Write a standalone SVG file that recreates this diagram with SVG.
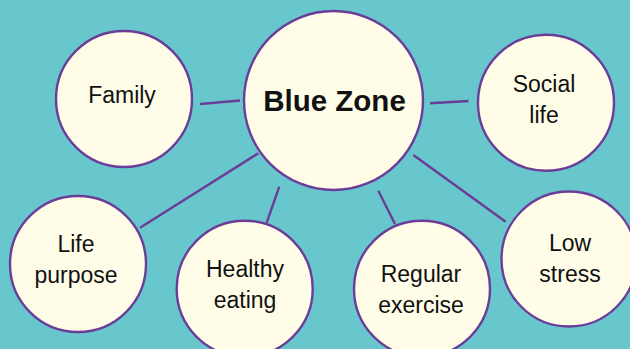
<svg xmlns="http://www.w3.org/2000/svg" width="630" height="349" viewBox="0 0 630 349">
<style>
.bg{fill:#67c7cc}
.node circle{fill:#fffde8;stroke:#6b3d98;stroke-width:2.4}
#connectors line{stroke:#6b3d98;stroke-width:2.4}
text{font-family:"Liberation Sans",Arial,sans-serif;font-size:23px;fill:#111;text-anchor:middle}
.title{font-weight:bold;font-size:29.5px}
</style>
<rect class="bg" x="0" y="0" width="630" height="349"/>
<g id="connectors">
<line x1="200" y1="104" x2="240" y2="100.5"/>
<line x1="430" y1="103.3" x2="468.5" y2="101"/>
<line x1="140" y1="227.7" x2="258.3" y2="153.3"/>
<line x1="266.7" y1="222.7" x2="279.3" y2="186.7"/>
<line x1="395" y1="224" x2="378.3" y2="190.7"/>
<line x1="505.7" y1="221.7" x2="413.3" y2="155"/>
</g>
<g id="blue-zone" class="node">
<circle cx="333.5" cy="100.5" r="89.5"/>
<text class="title" x="334.5" y="110.7">Blue Zone</text>
</g>
<g id="family" class="node">
<circle cx="124" cy="99" r="68"/>
<text x="122" y="103.3">Family</text>
</g>
<g id="social-life" class="node">
<circle cx="546" cy="102.7" r="68"/>
<text x="544" y="92.3">Social</text>
<text x="544" y="123.3">life</text>
</g>
<g id="life-purpose" class="node">
<circle cx="78" cy="264" r="68"/>
<text x="76" y="251.7">Life</text>
<text x="76" y="283.3">purpose</text>
</g>
<g id="healthy-eating" class="node">
<circle cx="244.7" cy="288.7" r="68"/>
<text x="245" y="276.7">Healthy</text>
<text x="245" y="308.3">eating</text>
</g>
<g id="regular-exercise" class="node">
<circle cx="422" cy="288.7" r="68"/>
<text x="421" y="281.7">Regular</text>
<text x="421" y="313.3">exercise</text>
</g>
<g id="low-stress" class="node">
<circle cx="569" cy="259" r="67.5"/>
<text x="570" y="251">Low</text>
<text x="570" y="281.7">stress</text>
</g>
</svg>
